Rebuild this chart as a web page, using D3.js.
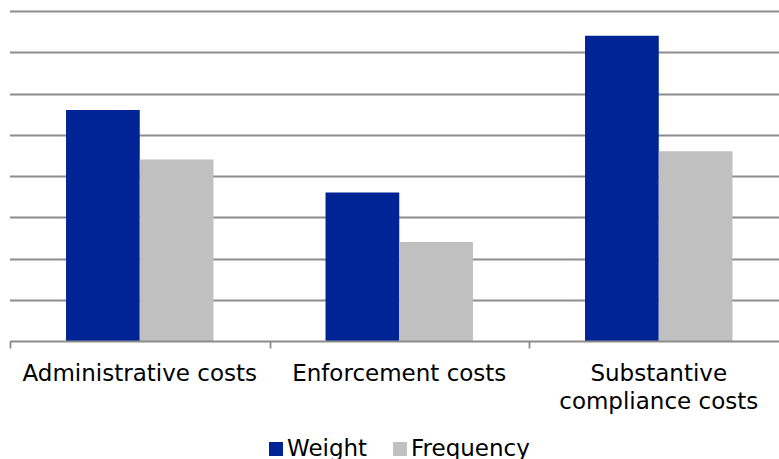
<!DOCTYPE html>
<html>
<head>
<meta charset="utf-8">
<script src="https://cdn.jsdelivr.net/npm/d3@7"></script>
<style>
  html, body { margin: 0; padding: 0; background: #fff; }
  svg { display: block; font-family: "DejaVu Sans", Verdana, sans-serif; }
</style>
</head>
<body>
<svg id="chart" width="779" height="459"></svg>
<script>
// Cost categories (multi-line labels split on "\n")
const categories = ["Administrative costs", "Enforcement costs", "Substantive\ncompliance costs"];
const seriesNames = ["Weight", "Frequency"];
const weight = [5.6, 3.6, 7.4];
const frequency = [4.4, 2.4, 4.6];
const gridTicks = [0, 1, 2, 3, 4, 5, 6, 7, 8];

const colors = { Weight: "#002395", Frequency: "#c0c0c0" };

const svg = d3.select("#chart");
const W = 779, H = 459;
const plotLeft = 10, plotRight = 788.5, plotTop = 11, plotBottom = 341;

const x0 = d3.scaleBand().domain(categories).range([plotLeft, plotRight]).padding(0);
const x1 = d3.scaleBand().domain(seriesNames).range([0, x0.bandwidth()]).paddingInner(0).paddingOuter(0.76);
const y = d3.scaleLinear().domain([0, 8]).range([plotBottom, plotTop]);

// horizontal gridlines
svg.append("g").selectAll("line").data(gridTicks.slice(1)).join("line")
  .attr("x1", plotLeft).attr("x2", W)
  .attr("y1", d => Math.round(y(d)) + 0.5).attr("y2", d => Math.round(y(d)) + 0.5)
  .attr("stroke", "#8c8c8c").attr("stroke-width", 1.8);

// bars
const rows = categories.map((c, i) => ({ cat: c, values: [
  { key: "Weight", v: weight[i] }, { key: "Frequency", v: frequency[i] }
]}));
const groups = svg.append("g").selectAll("g").data(rows).join("g")
  .attr("transform", d => `translate(${x0(d.cat)},0)`);
groups.selectAll("rect").data(d => d.values).join("rect")
  .attr("x", d => x1(d.key)).attr("width", x1.bandwidth())
  .attr("y", d => y(d.v)).attr("height", d => plotBottom - y(d.v))
  .attr("fill", d => colors[d.key]);

// category axis
const axis = svg.append("g").attr("transform", `translate(0,${Math.round(plotBottom) + 0.5})`);
axis.append("line").attr("x1", plotLeft).attr("x2", W)
  .attr("stroke", "#8c8c8c").attr("stroke-width", 1.8);
const tickXs = categories.map(c => x0(c));
axis.selectAll("line.tick").data(tickXs).join("line").attr("class", "tick")
  .attr("x1", d => Math.round(d) + 0.5).attr("x2", d => Math.round(d) + 0.5)
  .attr("y1", 0).attr("y2", 7)
  .attr("stroke", "#8c8c8c").attr("stroke-width", 1.8);

const labels = svg.append("g").selectAll("text").data(categories).join("text")
  .attr("x", d => x0(d) + x0.bandwidth() / 2)
  .attr("y", 381)
  .attr("text-anchor", "middle")
  .attr("font-size", 23)
  .attr("fill", "#000");
labels.each(function(d) {
  const t = d3.select(this);
  d.split("\n").forEach((line, i) => {
    t.append("tspan").attr("x", x0(d) + x0.bandwidth() / 2).attr("dy", i === 0 ? 0 : 28).text(line);
  });
});

// legend
const legend = svg.append("g");
const legendItems = [{ key: "Weight", x: 269 }, { key: "Frequency", x: 393 }];
legendItems.forEach(it => {
  legend.append("rect").attr("x", it.x).attr("y", 442).attr("width", 14).attr("height", 14)
    .attr("fill", colors[it.key]);
  legend.append("text").attr("x", it.x + 18).attr("y", 456)
    .attr("font-size", 23).attr("fill", "#000").text(it.key);
});
</script>
</body>
</html>
